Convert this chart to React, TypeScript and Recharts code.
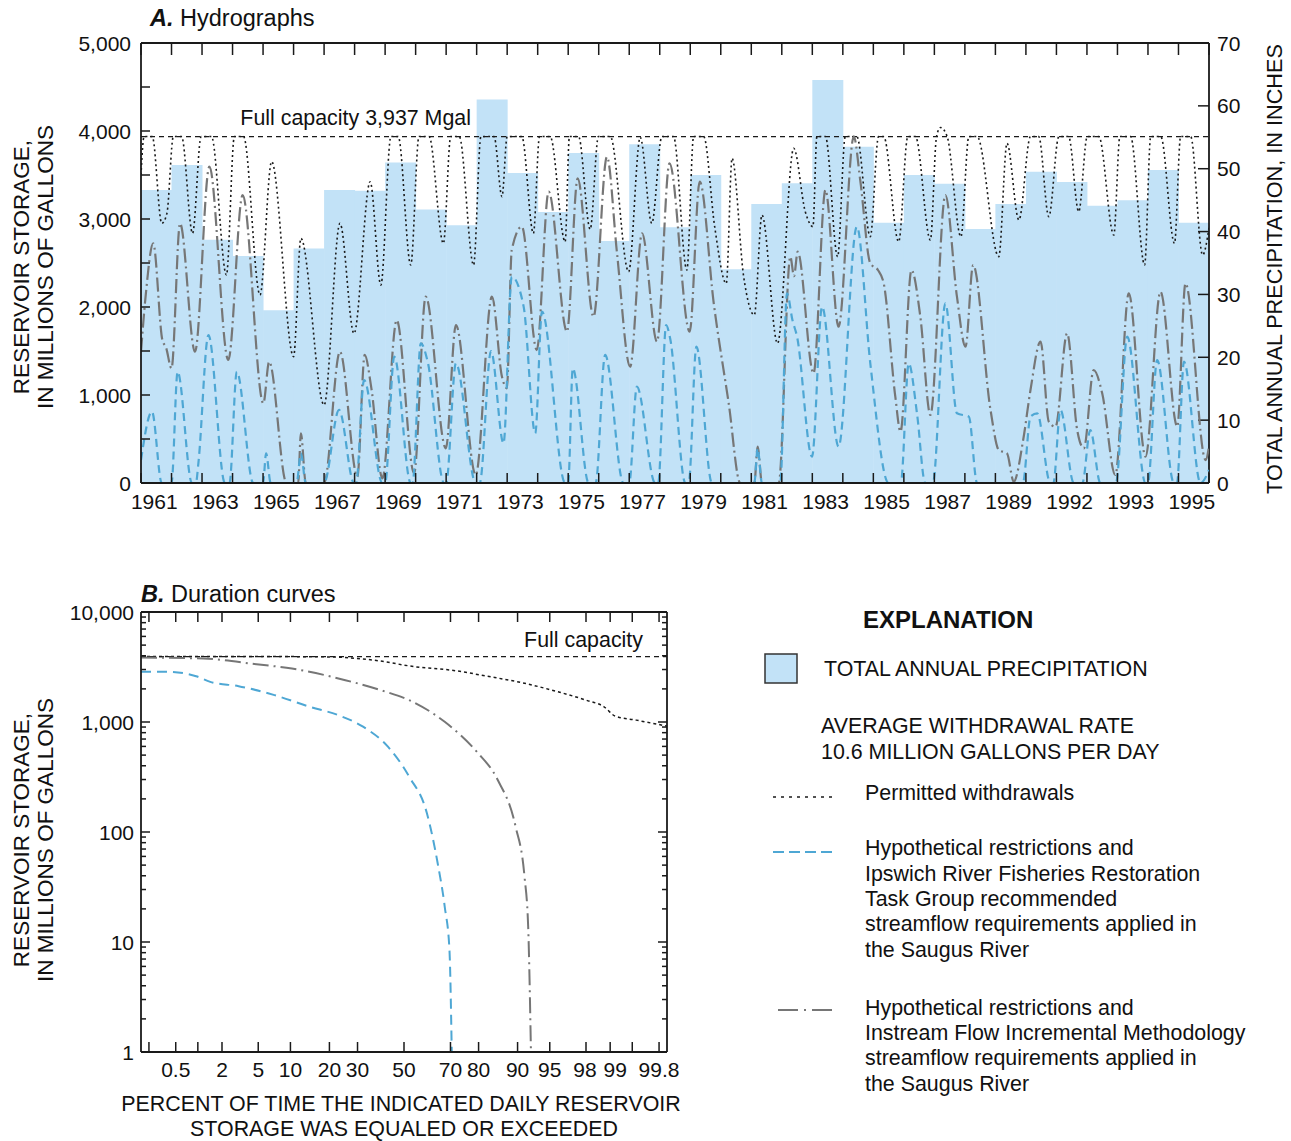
import React from 'react';
import { BarChart, Bar, LineChart, Line, XAxis, YAxis, ReferenceLine } from 'recharts';

const FONT = '"Liberation Sans", Arial, Helvetica, sans-serif';
const INK = '#1a1a1a';
const PRECIP_FILL = '#c2e2f7';
const BLUE = '#4ea7d4';
const GREY = '#767676';
const FULL_CAPACITY = 3937;
const TICK_FONT = 21;
const BODY_FONT = 21.4;

// ---- A. Hydrographs ----
const precipYears = [
  1961, 1962, 1963, 1964, 1965, 1966, 1967, 1968, 1969, 1970, 1971, 1972,
  1973, 1974, 1975, 1976, 1977, 1978, 1979, 1980, 1981, 1982, 1983, 1984,
  1985, 1986, 1987, 1988, 1989, 1990, 1991, 1992, 1993, 1994, 1995,
];
// total annual precipitation, inches
const precipInches = [
  46.6, 50.6, 38.7, 36.1, 27.5, 37.3, 46.6, 46.5, 51.0, 43.5, 41.0, 61.0,
  49.3, 43.1, 52.5, 38.5, 53.9, 40.7, 49.0, 34.0, 44.4, 47.7, 64.1, 53.5,
  41.4, 49.0, 47.6, 40.4, 44.4, 49.5, 47.9, 44.1, 45.0, 49.8, 41.4,
];
const yearTicks = [...precipYears, 1996];
const yearLabelAt = [1961, 1963, 1965, 1967, 1969, 1971, 1973, 1975, 1977, 1979, 1981, 1983, 1985, 1987, 1989, 1991, 1993, 1995];
const yearLabelText = ['1961', '1963', '1965', '1967', '1969', '1971', '1973', '1975', '1977', '1979', '1981', '1983', '1985', '1987', '1989', '1992', '1993', '1995'];
const storageTicks = [0, 500, 1000, 1500, 2000, 2500, 3000, 3500, 4000, 4500, 5000];
const precipTicks = [0, 10, 20, 30, 40, 50, 60, 70];

// reservoir storage, [decimal year, Mgal]
const permitted: [number, number][] = [
  [1961.0, 3500], [1961.1, 3937], [1961.37, 3937], [1961.68, 2950], [1961.85, 3064], [1962.06, 3937],
  [1962.33, 3937], [1962.69, 2837], [1962.97, 3937], [1963.31, 3937], [1963.8, 2364], [1964.06, 3937],
  [1964.36, 3937], [1964.9, 2136], [1965.28, 3652], [1966.0, 1436], [1966.24, 2780], [1967.0, 886],
  [1967.52, 2951], [1967.98, 1700], [1968.51, 3424], [1968.86, 2250], [1969.19, 3937], [1969.43, 3937],
  [1969.84, 2477], [1970.11, 3937], [1970.44, 3937], [1970.91, 2723], [1971.15, 3937], [1971.43, 3937],
  [1971.9, 2477], [1972.14, 3937], [1972.57, 3937], [1972.83, 3254], [1973.0, 3937], [1973.48, 3937],
  [1973.86, 2837], [1974.06, 3937], [1974.41, 3937], [1974.9, 2742], [1975.04, 3937], [1975.34, 3937],
  [1975.72, 2883], [1975.99, 3937], [1976.38, 3937], [1976.98, 2402], [1977.36, 3928], [1977.74, 2951],
  [1978.07, 3937], [1978.45, 3937], [1978.89, 2420], [1979.11, 3937], [1979.44, 3937], [1979.8, 2913],
  [1980.18, 2269], [1980.37, 3689], [1980.75, 2345], [1981.1, 1909], [1981.35, 3045], [1981.86, 1587],
  [1982.39, 3803], [1982.77, 3083], [1983.02, 2913], [1983.15, 3937], [1983.43, 3937], [1983.83, 2572],
  [1984.08, 3937], [1984.46, 3937], [1984.9, 2799], [1985.17, 3937], [1985.34, 3937], [1985.83, 2742],
  [1986.13, 3937], [1986.38, 3937], [1986.87, 2761], [1987.07, 3937], [1987.2, 4040], [1987.42, 3937],
  [1987.87, 2799], [1988.13, 3937], [1988.4, 3937], [1989.11, 2572], [1989.38, 3860], [1989.77, 2989],
  [1990.15, 3937], [1990.42, 3937], [1990.75, 3027], [1991.08, 3937], [1991.4, 3937], [1991.73, 3083],
  [1992.01, 3937], [1992.39, 3937], [1992.88, 2818], [1993.08, 3937], [1993.43, 3937], [1993.89, 2477],
  [1994.09, 3937], [1994.42, 3937], [1994.87, 2723], [1995.07, 3937], [1995.4, 3937], [1995.79, 2591],
  [1996.0, 2900],
];
const ifim: [number, number][] = [
  [1961.0, 1492], [1961.15, 2117], [1961.4, 2723], [1961.7, 1625], [1961.82, 1540], [1962.0, 1303],
  [1962.28, 2951], [1962.77, 1492], [1963.24, 3595], [1963.86, 1398], [1964.33, 3273], [1965.01, 905],
  [1965.2, 1379], [1965.77, 0], [1966.15, 0], [1966.24, 564], [1966.4, 0], [1967.0, 0],
  [1967.52, 1492], [1968.09, 72], [1968.33, 1455], [1968.55, 1075], [1968.91, 53], [1969.38, 1852],
  [1969.95, 110], [1970.33, 2117], [1970.99, 394], [1971.32, 1795], [1971.97, 91], [1972.5, 2117],
  [1972.83, 1208], [1972.99, 1076], [1973.15, 2648], [1973.48, 2913], [1973.97, 1511], [1974.36, 3311],
  [1974.96, 1720], [1975.31, 3462], [1975.83, 1890], [1976.27, 3708], [1976.6, 2610], [1977.03, 1322],
  [1977.42, 2837], [1977.91, 1606], [1978.32, 3633], [1978.98, 1720], [1979.31, 3424], [1979.77, 2042],
  [1980.26, 905], [1980.64, 0], [1981.1, 0], [1981.21, 413], [1981.35, 0], [1981.9, 0],
  [1982.28, 2572], [1982.4, 2350], [1982.52, 2629], [1983.04, 1246], [1983.43, 3330], [1983.86, 1776],
  [1984.36, 3937], [1984.57, 3443], [1984.9, 2496], [1985.15, 2420], [1985.34, 2269], [1985.72, 981],
  [1985.89, 583], [1986.25, 2420], [1986.54, 1890], [1986.87, 773], [1987.36, 3273], [1987.74, 2117],
  [1988.02, 1549], [1988.27, 2477], [1988.84, 830], [1989.11, 375], [1989.38, 337], [1989.6, 15],
  [1989.91, 489], [1990.15, 1057], [1990.48, 1606], [1990.75, 697], [1990.97, 640], [1991.35, 1701],
  [1991.68, 602], [1991.9, 394], [1992.22, 1284], [1992.5, 1019], [1992.93, 91], [1993.37, 2155],
  [1993.92, 299], [1994.41, 2174], [1994.96, 640], [1995.23, 2269], [1995.89, 261], [1996.0, 413],
];
const ipswich: [number, number][] = [
  [1961.0, 261], [1961.36, 811], [1961.68, 0], [1962.0, 0], [1962.2, 1265], [1962.67, 0],
  [1962.8, 0], [1962.88, 223], [1963.21, 1682], [1963.75, 0], [1963.9, 0], [1964.14, 1265],
  [1964.68, 0], [1965.0, 0], [1965.1, 337], [1965.25, 0], [1966.1, 0], [1966.24, 337],
  [1966.4, 0], [1967.0, 0], [1967.49, 830], [1967.98, 0], [1968.05, 0], [1968.31, 1170],
  [1968.91, 0], [1969.0, 0], [1969.3, 1436], [1969.84, 0], [1969.9, 0], [1970.17, 1587],
  [1970.4, 1370], [1970.93, 0], [1971.0, 0], [1971.32, 1360], [1971.97, 0], [1972.1, 0],
  [1972.47, 1500], [1972.88, 451], [1973.15, 2345], [1973.54, 2004], [1973.92, 564], [1974.14, 1947],
  [1974.9, 0], [1975.0, 0], [1975.15, 1303], [1975.67, 0], [1975.9, 0], [1976.21, 1455],
  [1976.81, 0], [1977.0, 0], [1977.25, 1095], [1977.85, 0], [1977.95, 0], [1978.21, 1795],
  [1978.34, 1644], [1978.84, 0], [1978.95, 0], [1979.2, 1549], [1979.71, 0], [1981.1, 0],
  [1981.21, 394], [1981.35, 0], [1981.95, 0], [1982.17, 2155], [1982.35, 1850], [1982.5, 1663],
  [1982.99, 299], [1983.32, 2004], [1983.86, 413], [1984.46, 2913], [1984.9, 1360], [1985.5, 0],
  [1985.9, 0], [1986.16, 1360], [1986.43, 792], [1986.7, 0], [1986.95, 0], [1987.36, 2042],
  [1987.74, 792], [1988.13, 754], [1988.4, 0], [1989.9, 0], [1990.15, 754], [1990.37, 792],
  [1990.8, 0], [1990.9, 0], [1991.13, 830], [1991.57, 0], [1991.85, 0], [1992.11, 602],
  [1992.44, 0], [1992.95, 0], [1993.32, 1663], [1993.92, 0], [1994.0, 0], [1994.3, 1398],
  [1994.85, 0], [1994.95, 0], [1995.18, 1379], [1995.72, 0], [1996.0, 148],
];

// ---- B. Duration curves ----
const probTickPct = [0.2, 0.5, 1, 2, 5, 10, 20, 30, 50, 70, 80, 90, 95, 98, 99, 99.5, 99.8];
const probTickLabel = ['', '0.5', '', '2', '5', '10', '20', '30', '50', '70', '80', '90', '95', '98', '99', '', '99.8'];
const probLabelNudge = [0, 0, 0, 0, 0, 0, 0, 0, 0, 0, 0, 0, 0, -1, 5, 0, 0];
const logTicks = [
  1, 2, 3, 4, 5, 6, 7, 8, 9, 10, 20, 30, 40, 50, 60, 70, 80, 90,
  100, 200, 300, 400, 500, 600, 700, 800, 900, 1000, 2000, 3000, 4000, 5000, 6000, 7000, 8000, 9000, 10000,
];
const logLabels = [1, 10, 100, 1000, 10000];

const durPermittedPct = [0.15, 10.3, 20.5, 36.6, 55.5, 70.5, 82.6, 91.0, 95.9, 98.0, 98.8, 99.14, 99.56, 99.85];
const durPermittedMgal = [3937, 3930, 3900, 3650, 3170, 2957, 2608, 2268, 1880, 1580, 1375, 1132, 1040, 918];
const durIfimPct = [0.15, 1.17, 4.8, 10.3, 25.4, 39.7, 52.3, 67.7, 79.4, 85.5, 89.6, 91.3, 91.94, 92.4];
const durIfimMgal = [3855, 3775, 3350, 3060, 2400, 1947, 1580, 1004, 537, 297, 112, 39.5, 13.9, 1];
const durIpswichPct = [0.15, 0.38, 0.95, 1.44, 3.1, 7.2, 14.4, 22.9, 32.2, 42.8, 52.3, 60.2, 64.8, 67.7, 69.6, 70.5];
const durIpswichMgal = [2860, 2860, 2608, 2317, 2117, 1754, 1375, 1155, 906, 597, 319, 148, 52, 21, 8.5, 1];

// inverse standard normal CDF (Acklam), used for the probability axis
function probit(p: number): number {
  const a = [-39.69683028665376, 220.9460984245205, -275.9285104469687, 138.357751867269, -30.66479806614716, 2.506628277459239];
  const b = [-54.47609879822406, 161.5858368580409, -155.6989798598866, 66.80131188771972, -13.28068155288572];
  const c = [-0.007784894002430293, -0.3223964580411365, -2.400758277161838, -2.549732539343734, 4.374664141464968, 2.938163982698783];
  const d = [0.007784695709041462, 0.3224671290700398, 2.445134137142996, 3.754408661907416];
  const lo = 0.02425;
  if (p < lo) {
    const q = Math.sqrt(-2 * Math.log(p));
    return (((((c[0] * q + c[1]) * q + c[2]) * q + c[3]) * q + c[4]) * q + c[5]) / ((((d[0] * q + d[1]) * q + d[2]) * q + d[3]) * q + 1);
  }
  if (p > 1 - lo) {
    const q = Math.sqrt(-2 * Math.log(1 - p));
    return -(((((c[0] * q + c[1]) * q + c[2]) * q + c[3]) * q + c[4]) * q + c[5]) / ((((d[0] * q + d[1]) * q + d[2]) * q + d[3]) * q + 1);
  }
  const q = p - 0.5;
  const r = q * q;
  return ((((((a[0] * r + a[1]) * r + a[2]) * r + a[3]) * r + a[4]) * r + a[5]) * q) / (((((b[0] * r + b[1]) * r + b[2]) * r + b[3]) * r + b[4]) * r + 1);
}

const zOf = (pct: number) => probit(pct / 100);
const Z_MIN = zOf(0.15);
const Z_MAX = zOf(99.85);

type Side = 'left' | 'right' | 'top' | 'bottom';

// axis tick drawn inside the frame, with an optional label outside
function inTick(
  side: Side,
  margin: number,
  len: (v: number, i: number) => number,
  label?: (v: number, i: number) => string,
  nudge?: (i: number) => number,
) {
  return (props: any) => {
    const { x, y, payload, index } = props;
    const v = payload.value;
    const L = len(v, index);
    const text = label ? label(v, index) : '';
    const dx = nudge ? nudge(index) : 0;
    let mark: React.ReactNode = null;
    let txt: React.ReactNode = null;
    if (side === 'left') {
      const ex = x + margin;
      if (L > 0) mark = <line x1={ex} x2={ex + L} y1={y} y2={y} stroke={INK} strokeWidth={1.5} />;
      if (text) txt = <text x={x} y={y} dy="0.36em" textAnchor="end" fontSize={TICK_FONT} fill="#111">{text}</text>;
    } else if (side === 'right') {
      const ex = x - margin;
      if (L > 0) mark = <line x1={ex} x2={ex - L} y1={y} y2={y} stroke={INK} strokeWidth={1.5} />;
      if (text) txt = <text x={x} y={y} dy="0.36em" textAnchor="start" fontSize={TICK_FONT} fill="#111">{text}</text>;
    } else if (side === 'top') {
      const ey = y + margin;
      if (L > 0) mark = <line x1={x} x2={x} y1={ey} y2={ey + L} stroke={INK} strokeWidth={1.5} />;
    } else {
      const ey = y - margin;
      if (L > 0) mark = <line x1={x} x2={x} y1={ey} y2={ey - L} stroke={INK} strokeWidth={1.5} />;
      if (text) txt = <text x={x + dx} y={y} dy="0.72em" textAnchor="middle" fontSize={TICK_FONT} fill="#111">{text}</text>;
    }
    return <g>{mark}{txt}</g>;
  };
}

const frame = { stroke: INK, strokeWidth: 1.8 };
const fmt = (v: number) => v.toLocaleString('en-US');

export default function App() {
  const precipRows = precipYears.map((year, i) => ({ year, inches: precipInches[i] }));
  const toRows = (pts: [number, number][]) => pts.map(([t, v]) => ({ t, v }));
  const durRows = (pct: number[], mgal: number[]) => pct.map((p, i) => ({ z: zOf(p), v: mgal[i] }));
  const probTicksZ = probTickPct.map(zOf);

  const yearLabelTick = (props: any) => {
    const k = yearLabelAt.indexOf(props.payload.value);
    if (k < 0) return <g />;
    return (
      <text x={props.x - 2} y={props.y} dy="0.72em" textAnchor="middle" fontSize={TICK_FONT} fill="#111">
        {yearLabelText[k]}
      </text>
    );
  };

  return (
    <div style={{ position: 'absolute', left: 0, top: 0, width: 1291, height: 1141, background: '#fff', fontFamily: FONT }}>
      {/* annual precipitation bars, right axis */}
      <div style={{ position: 'absolute', left: 0, top: 0 }}>
        <BarChart width={1291} height={520} data={precipRows} margin={{ top: 43, right: 0, bottom: 0, left: 141 }} barCategoryGap={0} barGap={0}>
          <XAxis dataKey="year" height={37} interval={0} tickSize={0} tickMargin={11} tickLine={false} axisLine={false} tick={yearLabelTick} />
          <YAxis
            yAxisId="in"
            orientation="right"
            width={82}
            type="number"
            domain={[0, 70]}
            ticks={precipTicks}
            interval={0}
            tickSize={0}
            tickMargin={8}
            tickLine={false}
            axisLine={frame}
            tick={inTick('right', 8, () => 11, (v) => String(v))}
          />
          <Bar yAxisId="in" dataKey="inches" fill={PRECIP_FILL} isAnimationActive={false} />
        </BarChart>
      </div>

      {/* storage hydrographs */}
      <div style={{ position: 'absolute', left: 0, top: 0 }}>
        <LineChart width={1291} height={520} margin={{ top: 33, right: 82, bottom: 27, left: 0 }}>
          <XAxis
            type="number"
            dataKey="t"
            domain={[1961, 1996]}
            allowDataOverflow
            ticks={yearTicks}
            interval={0}
            height={10}
            tickSize={0}
            tickMargin={0}
            tickLine={false}
            axisLine={frame}
            tick={inTick('bottom', 0, () => 10)}
          />
          <XAxis
            xAxisId="top"
            orientation="top"
            type="number"
            dataKey="t"
            domain={[1961, 1996]}
            allowDataOverflow
            ticks={yearTicks}
            interval={0}
            height={10}
            tickSize={0}
            tickMargin={0}
            tickLine={false}
            axisLine={frame}
            tick={inTick('top', 0, () => 12)}
          />
          <YAxis
            type="number"
            domain={[0, 5000]}
            ticks={storageTicks}
            interval={0}
            width={141}
            tickSize={0}
            tickMargin={10}
            tickLine={false}
            axisLine={frame}
            tick={inTick('left', 10, () => 9, (v) => (v % 1000 === 0 ? fmt(v) : ''))}
          />
          <ReferenceLine y={FULL_CAPACITY} stroke={INK} strokeWidth={1.2} strokeDasharray="5 4" />
          <Line data={toRows(permitted)} dataKey="v" type="monotone" stroke={INK} strokeWidth={1.6} strokeDasharray="2 3" dot={false} activeDot={false} isAnimationActive={false} />
          <Line data={toRows(ifim)} dataKey="v" type="monotone" stroke={GREY} strokeWidth={2.2} strokeDasharray="14 4 2 4" dot={false} activeDot={false} isAnimationActive={false} />
          <Line data={toRows(ipswich)} dataKey="v" type="monotone" stroke={BLUE} strokeWidth={2.2} strokeDasharray="8 5" dot={false} activeDot={false} isAnimationActive={false} />
        </LineChart>
      </div>

      {/* duration curves */}
      <div style={{ position: 'absolute', left: 0, top: 560 }}>
        <LineChart width={700} height={560} margin={{ top: 42, right: 23, bottom: 0, left: 0 }}>
          <XAxis
            type="number"
            dataKey="z"
            domain={[Z_MIN, Z_MAX]}
            allowDataOverflow
            ticks={probTicksZ}
            interval={0}
            height={68}
            tickSize={0}
            tickMargin={10}
            tickLine={false}
            axisLine={frame}
            tick={inTick('bottom', 10, () => 10, (_v, i) => probTickLabel[i], (i) => probLabelNudge[i])}
          />
          <XAxis
            xAxisId="top"
            orientation="top"
            type="number"
            dataKey="z"
            domain={[Z_MIN, Z_MAX]}
            allowDataOverflow
            ticks={probTicksZ}
            interval={0}
            height={10}
            tickSize={0}
            tickMargin={0}
            tickLine={false}
            axisLine={frame}
            tick={inTick('top', 0, () => 10)}
          />
          <YAxis
            type="number"
            scale="log"
            domain={[1, 10000]}
            allowDataOverflow
            ticks={logTicks}
            interval={0}
            width={141}
            tickSize={0}
            tickMargin={7}
            tickLine={false}
            axisLine={frame}
            tick={inTick('left', 7, (v) => (logLabels.includes(v) ? 9 : 5), (v) => (logLabels.includes(v) ? fmt(v) : ''))}
          />
          <YAxis
            yAxisId="r"
            orientation="right"
            type="number"
            scale="log"
            domain={[1, 10000]}
            allowDataOverflow
            ticks={logTicks}
            interval={0}
            width={10}
            tickSize={0}
            tickMargin={0}
            tickLine={false}
            axisLine={frame}
            tick={inTick('right', 0, (v) => (logLabels.includes(v) ? 9 : 5))}
          />
          <ReferenceLine y={FULL_CAPACITY} stroke={INK} strokeWidth={1.2} strokeDasharray="5 4" />
          <Line data={durRows(durPermittedPct, durPermittedMgal)} dataKey="v" type="monotone" stroke={INK} strokeWidth={1.5} strokeDasharray="3 3" dot={false} activeDot={false} isAnimationActive={false} />
          <Line data={durRows(durIfimPct, durIfimMgal)} dataKey="v" type="monotone" stroke={GREY} strokeWidth={2} strokeDasharray="16 5 2 5" dot={false} activeDot={false} isAnimationActive={false} />
          <Line data={durRows(durIpswichPct, durIpswichMgal)} dataKey="v" type="monotone" stroke={BLUE} strokeWidth={2} strokeDasharray="10 6" dot={false} activeDot={false} isAnimationActive={false} />
        </LineChart>
      </div>

      {/* titles, axis titles and explanation */}
      <svg width={1291} height={1141} style={{ position: 'absolute', left: 0, top: 0, pointerEvents: 'none' }} fontFamily={FONT} fill="#111">
        <text x={150} y={26} fontSize={23.5}>
          <tspan fontWeight="bold" fontStyle="italic">A.</tspan> Hydrographs
        </text>
        <text x={471} y={125} fontSize={BODY_FONT} textAnchor="end">Full capacity 3,937 Mgal</text>
        <text transform="rotate(-90 21 267)" x={21} y={267} fontSize={22.5} textAnchor="middle" dominantBaseline="central">RESERVOIR STORAGE,</text>
        <text transform="rotate(-90 45 267)" x={45} y={267} fontSize={22.5} textAnchor="middle" dominantBaseline="central">IN MILLIONS OF GALLONS</text>
        <text transform="rotate(-90 1274 269)" x={1274} y={269} fontSize={21.7} textAnchor="middle" dominantBaseline="central">TOTAL ANNUAL PRECIPITATION, IN INCHES</text>

        <text x={141} y={602} fontSize={23.5}>
          <tspan fontWeight="bold" fontStyle="italic">B.</tspan> Duration curves
        </text>
        <text x={643} y={647} fontSize={BODY_FONT} textAnchor="end">Full capacity</text>
        <text transform="rotate(-90 21 840)" x={21} y={840} fontSize={22.5} textAnchor="middle" dominantBaseline="central">RESERVOIR STORAGE,</text>
        <text transform="rotate(-90 45 840)" x={45} y={840} fontSize={22.5} textAnchor="middle" dominantBaseline="central">IN MILLIONS OF GALLONS</text>
        <text x={401} y={1111} fontSize={BODY_FONT} textAnchor="middle">PERCENT OF TIME THE INDICATED DAILY RESERVOIR</text>
        <text x={404} y={1136} fontSize={BODY_FONT} textAnchor="middle">STORAGE WAS EQUALED OR EXCEEDED</text>

        <text x={863} y={628} fontSize={24} fontWeight="bold">EXPLANATION</text>
        <rect x={765} y={654} width={32} height={29} fill={PRECIP_FILL} stroke="#333" strokeWidth={1.5} />
        <text x={824} y={676} fontSize={BODY_FONT}>TOTAL ANNUAL PRECIPITATION</text>
        <text x={821} y={733} fontSize={BODY_FONT}>AVERAGE WITHDRAWAL RATE</text>
        <text x={821} y={759} fontSize={BODY_FONT}>10.6 MILLION GALLONS PER DAY</text>

        <line x1={773} x2={834} y1={797} y2={797} stroke={INK} strokeWidth={1.6} strokeDasharray="3 5" />
        <text x={865} y={800} fontSize={BODY_FONT}>Permitted withdrawals</text>

        <line x1={773} x2={834} y1={852} y2={852} stroke={BLUE} strokeWidth={2} strokeDasharray="11 5" />
        <text x={865} y={855} fontSize={BODY_FONT}>Hypothetical restrictions and</text>
        <text x={865} y={881} fontSize={BODY_FONT}>Ipswich River Fisheries Restoration</text>
        <text x={865} y={906} fontSize={BODY_FONT}>Task Group recommended</text>
        <text x={865} y={931} fontSize={BODY_FONT}>streamflow requirements applied in</text>
        <text x={865} y={957} fontSize={BODY_FONT}>the Saugus River</text>

        <line x1={778} x2={834} y1={1010} y2={1010} stroke={GREY} strokeWidth={2} strokeDasharray="20 6 2 6" />
        <text x={865} y={1015} fontSize={BODY_FONT}>Hypothetical restrictions and</text>
        <text x={865} y={1040} fontSize={BODY_FONT}>Instream Flow Incremental Methodology</text>
        <text x={865} y={1065} fontSize={BODY_FONT}>streamflow requirements applied in</text>
        <text x={865} y={1091} fontSize={BODY_FONT}>the Saugus River</text>
      </svg>
    </div>
  );
}
